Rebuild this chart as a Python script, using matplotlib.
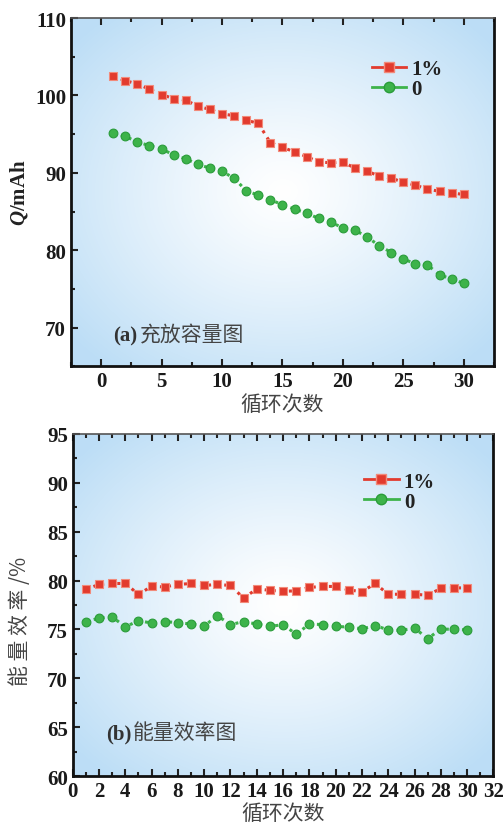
import numpy as np
import matplotlib
matplotlib.use("Agg")
import matplotlib.pyplot as plt
from matplotlib.lines import Line2D
from matplotlib.ticker import MultipleLocator

plt.rcParams['mathtext.fontset'] = 'custom'
plt.rcParams['mathtext.bfit'] = 'Liberation Serif:italic:bold'
plt.rcParams['mathtext.rm'] = 'Liberation Serif:bold'

cycles = np.arange(1, 31)

# (a) capacity, mAh
cap_1pct = [102.5, 101.9, 101.5, 100.8, 100.1, 99.6, 99.4, 98.6, 98.2, 97.6,
            97.4, 96.8, 96.4, 93.9, 93.3, 92.7, 92.1, 91.4, 91.3, 91.4,
            90.6, 90.2, 89.6, 89.3, 88.8, 88.4, 87.9, 87.6, 87.4, 87.2]
cap_0 = [95.2, 94.7, 94.0, 93.5, 93.1, 92.3, 91.8, 91.1, 90.6, 90.2,
         89.3, 87.7, 87.1, 86.5, 85.9, 85.3, 84.8, 84.1, 83.6, 82.9,
         82.6, 81.7, 80.6, 79.7, 78.9, 78.2, 78.1, 76.8, 76.3, 75.7]

# (b) energy efficiency, %
eff_1pct = [79.1, 79.6, 79.7, 79.7, 78.6, 79.4, 79.35, 79.6, 79.7, 79.5,
            79.6, 79.5, 78.2, 79.15, 79.0, 78.9, 78.95, 79.3, 79.4, 79.4,
            79.05, 78.85, 79.7, 78.6, 78.6, 78.6, 78.5, 79.2, 79.25, 79.25]
eff_0 = [75.8, 76.15, 76.3, 75.25, 75.9, 75.65, 75.8, 75.7, 75.55, 75.35,
         76.4, 75.5, 75.8, 75.55, 75.3, 75.5, 74.5, 75.55, 75.5, 75.3,
         75.25, 75.05, 75.4, 74.95, 74.9, 75.15, 74.05, 75.05, 75.0, 74.95]

labels = ['1%', '0']
red = '#e23b2e'
green = '#3db34a'
serif = 'Liberation Serif'
cjk = 'Noto Sans CJK SC'

fig = plt.figure(figsize=(5.03, 8.29), dpi=100)
ax1 = fig.add_axes([0.141, 0.557, 0.841, 0.420])
ax2 = fig.add_axes([0.1445, 0.0627, 0.8365, 0.4126])

# radial gradient background
gx, gy = np.meshgrid(np.linspace(-1, 1, 300), np.linspace(-1, 1, 300))
r = np.clip(np.sqrt(gx**2 + gy**2) / 1.3, 0, 1)
c0 = np.array([1.0, 1.0, 1.0])
c1 = np.array([0.74, 0.87, 0.965])
grad = c0 + (c1 - c0) * r[..., None]**1.2


def style(ax, xlim, ylim, xmaj, xmin, ymaj, ymin):
    ax.imshow(grad, extent=[0, 1, 0, 1], transform=ax.transAxes,
              aspect='auto', zorder=0, interpolation='bilinear')
    ax.set_xlim(*xlim)
    ax.set_ylim(*ylim)
    ax.xaxis.set_major_locator(MultipleLocator(xmaj))
    ax.xaxis.set_minor_locator(MultipleLocator(xmin))
    ax.yaxis.set_major_locator(MultipleLocator(ymaj))
    ax.yaxis.set_minor_locator(MultipleLocator(ymin))
    ax.tick_params(which='both', direction='in', top=True, width=1.5,
                   colors='#222222')
    ax.tick_params(which='major', length=5)
    ax.tick_params(which='minor', length=3)
    for lab in ax.get_xticklabels() + ax.get_yticklabels():
        lab.set_fontfamily(serif)
        lab.set_fontweight('bold')
        lab.set_fontsize(15)
        lab.set_color('#1a1a1a')
    for s in ['left', 'bottom', 'right']:
        ax.spines[s].set_linewidth(2)
        ax.spines[s].set_color('#111111')
    ax.spines['top'].set_linewidth(1.2)
    ax.spines['top'].set_color('#555555')


def series(ax, y1, y0, anchor):
    ax.plot(cycles, y1, linestyle=':', color=red, lw=2.2, marker='s',
            markersize=5.8, markerfacecolor=red, markeredgecolor='#f28a7a',
            markeredgewidth=0.8, zorder=3)
    ax.plot(cycles, y0, linestyle=':', color=green, lw=2.2, marker='o',
            markersize=6.3, markerfacecolor=green, markeredgecolor='#2a9c3a',
            markeredgewidth=0.8, zorder=3)
    handles = [Line2D([], [], color=red, lw=2, marker='s', markersize=7,
                      markerfacecolor=red, markeredgecolor='#f28a7a'),
               Line2D([], [], color=green, lw=2, marker='o', markersize=7.5,
                      markerfacecolor=green, markeredgecolor='#2a9c3a')]
    leg = ax.legend(handles, labels, loc='upper left',
                    bbox_to_anchor=anchor, frameon=False, borderpad=0,
                    borderaxespad=0, handlelength=1.65, handletextpad=0.25,
                    labelspacing=0.0,
                    prop={'family': serif, 'weight': 'bold', 'size': 15})
    for t in leg.get_texts():
        t.set_color('#222222')


style(ax1, (-2.5, 32.5), (65, 110), 5, 2.5, 10, 5)
series(ax1, cap_1pct, cap_0, (0.711, 0.882))
ax1.set_xlabel('循环次数', fontfamily=cjk, fontsize=15, color='#444444',
               labelpad=1)
ax1.set_ylabel(r'$\mathbfit{Q}$/mAh', fontfamily=serif, fontweight='bold',
               fontsize=15, color='#222222')
ax1.yaxis.set_label_coords(-0.097, 0.5)
ax1.text(0.1, 0.075, '(a)', transform=ax1.transAxes, fontfamily=serif,
         fontweight='bold', fontsize=15, color='#333333', va='baseline')
ax1.text(0.163, 0.075, '充放容量图', transform=ax1.transAxes, fontfamily=cjk,
         fontsize=15, color='#444444', va='baseline')

style(ax2, (0, 32), (60, 95), 2, 1, 5, 2.5)
series(ax2, eff_1pct, eff_0, (0.693, 0.89))
ax2.set_xlabel('循环次数', fontfamily=cjk, fontsize=15, color='#444444',
               labelpad=1)
ax2.set_ylabel('能 量 效 率 /%', fontfamily=[cjk, serif], fontsize=15,
               color='#444444')
ax2.yaxis.set_label_coords(-0.1, 0.455)
ax2.text(0.08, 0.11, '(b)', transform=ax2.transAxes, fontfamily=serif,
         fontweight='bold', fontsize=15, color='#333333', va='baseline')
ax2.text(0.143, 0.11, '能量效率图', transform=ax2.transAxes, fontfamily=cjk,
         fontsize=15, color='#444444', va='baseline')

fig.savefig('out.png', dpi=100)
